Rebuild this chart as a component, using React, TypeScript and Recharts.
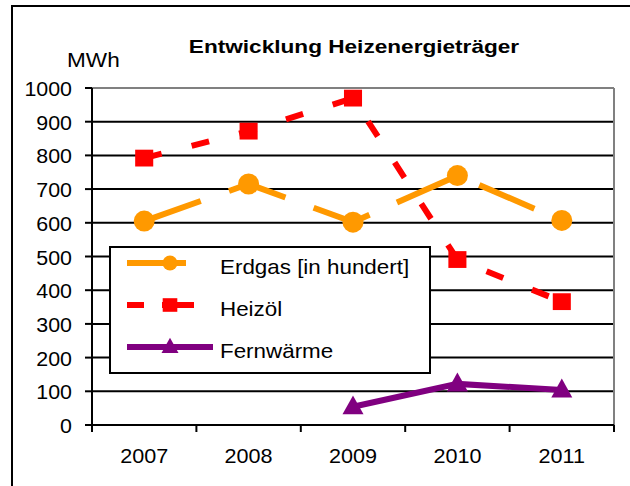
import React from 'react';
import { LineChart, Line, XAxis, YAxis, CartesianGrid, ReferenceLine, Legend } from 'recharts';

const years = ['2007', '2008', '2009', '2010', '2011'];
const erdgas = [605, 715, 602, 740, 607];
const heizoel = [792, 872, 970, 491, 366];
const fernwaerme: (number | null)[] = [null, null, 54, 122, 104];
const yTicks = [0, 100, 200, 300, 400, 500, 600, 700, 800, 900, 1000];

const FONT = '"Liberation Sans", Arial, sans-serif';

const data = years.map((year, i) => ({
  i,
  year,
  erdgas: erdgas[i],
  heizoel: heizoel[i],
  fernwaerme: fernwaerme[i],
}));

// tick marks sit between the categories, labels in the middle
const labelTicks = years.map((_, i) => i);
const boundaryTicks = [...years.map((_, i) => i - 0.5), years.length - 0.5];
const xDomain = [-0.5, years.length - 0.5];

const series = [
  { key: 'erdgas', name: 'Erdgas [in hundert]', color: '#FF9900', dash: '60 30', shape: 'circle' },
  { key: 'heizoel', name: 'Heizöl', color: '#FF0000', dash: '18 31', shape: 'square' },
  { key: 'fernwaerme', name: 'Fernwärme', color: '#800080', dash: undefined, shape: 'triangle' },
];

function Marker({ cx, cy, shape, color, size }: { cx: number; cy: number; shape: string; color: string; size: number }) {
  if (shape === 'circle') return <circle cx={cx} cy={cy} r={size * 0.5} fill={color} />;
  if (shape === 'square') {
    const w = size * 0.86, h = size * 0.8;
    return <rect x={cx - w / 2} y={cy - h / 2} width={w} height={h} fill={color} />;
  }
  const w = size, h = size * 0.9;
  return <polygon points={`${cx},${cy - h * 0.6} ${cx - w / 2},${cy + h * 0.4} ${cx + w / 2},${cy + h * 0.4}`} fill={color} />;
}

const makeDot = (shape: string, color: string) => (p: any) => {
  if (p.cx == null || p.cy == null || p.value == null) return <g key={`${shape}-${p.index}`} />;
  return (
    <g key={`${shape}-${p.index}`}>
      <Marker cx={p.cx} cy={p.cy} shape={shape} color={color} size={21} />
    </g>
  );
};

const YTick = (p: any) => (
  <text transform={`translate(${p.x},${p.y + 8}) scale(1.07,1)`} textAnchor="end" fontSize={20} fontFamily={FONT} fill="#000">
    {p.payload.value}
  </text>
);

const XTick = (p: any) => (
  <text transform={`translate(${p.x},${p.y + 37}) scale(1.08,1)`} textAnchor="middle" fontSize={20} fontFamily={FONT} fill="#000">
    {years[p.payload.value]}
  </text>
);

const NoLabel = () => <g />;

function LegendBox() {
  const rows = [17, 59, 101];
  return (
    <svg width={322} height={128} style={{ display: 'block' }}>
      <rect x={1} y={1} width={320} height={126} fill="#fff" stroke="#000" strokeWidth={2} />
      {series.map((s, n) => {
        const y = rows[n];
        return (
          <g key={s.key}>
            {s.shape === 'circle' && <line x1={18} x2={77} y1={y} y2={y} stroke={s.color} strokeWidth={6} />}
            {s.shape === 'square' && (
              <>
                <line x1={18} x2={35} y1={y} y2={y} stroke={s.color} strokeWidth={6} />
                <line x1={53} x2={85} y1={y} y2={y} stroke={s.color} strokeWidth={6} />
              </>
            )}
            {s.shape === 'triangle' && <line x1={18} x2={104} y1={y} y2={y} stroke={s.color} strokeWidth={6} />}
            <Marker cx={61} cy={y} shape={s.shape} color={s.color} size={s.shape === 'circle' ? 15 : 17} />
            <text transform={`translate(111,${y + 11}) scale(1.12,1)`} fontSize={20} fontFamily={FONT} fill="#000">
              {s.name}
            </text>
          </g>
        );
      })}
    </svg>
  );
}

export default function App() {
  return (
    <div style={{ position: 'absolute', left: 0, top: 0, width: 630, height: 486, overflow: 'hidden', background: '#fff' }}>
      <div style={{ position: 'absolute', left: 11, top: 5, width: 700, height: 600, border: '2px solid #000' }} />
      <LineChart width={630} height={486} data={data} margin={{ top: 88, right: 16, bottom: 59, left: 0 }}>
        <CartesianGrid xAxisId="lbl" vertical={false} stroke="#000" strokeWidth={2} />
        <XAxis
          xAxisId="grid" type="number" dataKey="i" domain={xDomain} ticks={boundaryTicks}
          allowDataOverflow height={1} tick={NoLabel} tickSize={7} interval={0}
          axisLine={{ stroke: '#000', strokeWidth: 2 }} tickLine={{ stroke: '#000', strokeWidth: 2 }}
        />
        <XAxis
          xAxisId="lbl" type="number" dataKey="i" domain={xDomain} ticks={labelTicks}
          allowDataOverflow height={1} axisLine={false} tickLine={false} tickSize={0} tickMargin={0}
          tick={XTick} interval={0}
        />
        <YAxis
          domain={[0, 1000]} ticks={yTicks} width={92} tickSize={7} tickMargin={13} interval={0}
          axisLine={{ stroke: '#000', strokeWidth: 2 }} tickLine={{ stroke: '#000', strokeWidth: 2 }} tick={YTick}
        />
        <ReferenceLine xAxisId="lbl" y={1000} stroke="#808080" strokeWidth={2} />
        <ReferenceLine xAxisId="lbl" x={years.length - 0.5} stroke="#808080" strokeWidth={2} />
        {series.map((s) => (
          <Line
            key={s.key} xAxisId="lbl" type="linear" dataKey={s.key} name={s.name}
            stroke={s.color} strokeWidth={6} strokeDasharray={s.dash}
            dot={makeDot(s.shape, s.color)} activeDot={false} isAnimationActive={false}
          />
        ))}
        <Legend
          layout="vertical" align="center" verticalAlign="middle"
          wrapperStyle={{ left: 109, top: 246, width: 322, height: 128 }}
          content={() => <LegendBox />}
        />
      </LineChart>
      <svg width={630} height={486} style={{ position: 'absolute', left: 0, top: 0, pointerEvents: 'none' }}>
        <text transform="translate(354,53) scale(1.19,1)" textAnchor="middle" fontSize={19} fontWeight="bold" fontFamily={FONT} fill="#000">
          Entwicklung Heizenergieträger
        </text>
        <text transform="translate(67,67) scale(1.13,1)" fontSize={20} fontFamily={FONT} fill="#000">
          MWh
        </text>
      </svg>
    </div>
  );
}
